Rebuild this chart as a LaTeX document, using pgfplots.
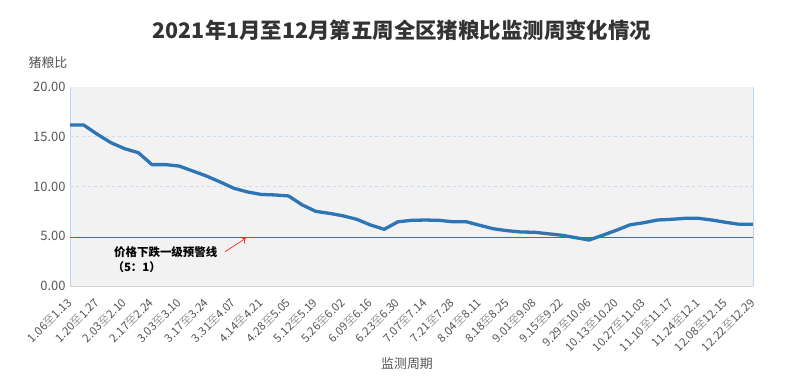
\documentclass[border=0pt]{standalone}
\usepackage{pgfplots}
\pgfplotsset{compat=1.18}
\usetikzlibrary{arrows.meta}
\usepackage{fontspec}
\setmainfont{Noto Sans CJK SC}
\definecolor{linec}{HTML}{2E75B6}
\definecolor{bgc}{HTML}{F2F2F2}
\definecolor{gridc}{HTML}{C8DDF3}
\definecolor{yaxc}{HTML}{BDD7EE}
\definecolor{xaxc}{HTML}{D0D0D0}
\definecolor{txtc}{HTML}{555555}
\definecolor{titc}{HTML}{333333}
\definecolor{warnc}{HTML}{FF2828}
\newcommand{\z}{{\color[HTML]{9A9A9A}至}}
\begin{document}
\begin{tikzpicture}
\path[use as bounding box] (0,0) rectangle (797bp,381bp);
\node[font=\bfseries\fontsize{21.5}{25}\selectfont, text=titc] at (402bp,351bp) {2021年1月至12月第五周全区猪粮比监测周变化情况};
\node[font=\fontsize{13}{15}\selectfont, text=txtc] at (48bp,318bp) {猪粮比};
\node[font=\fontsize{13}{15}\selectfont, text=txtc] at (407bp,17bp) {监测周期};
\begin{axis}[
  at={(70bp,95bp)}, anchor=south west,
  scale only axis, width=683bp, height=199bp,
  xmin=0, xmax=50, ymin=0, ymax=20,
  axis x line*=bottom, axis y line*=left,
  x axis line style={draw=xaxc, line width=1bp},
  y axis line style={draw=yaxc, line width=1bp},
  axis background/.style={fill=bgc},
  major tick length=0pt,
  ytick={0,5,10,15,20},
  extra y ticks={10,15},
  extra y tick labels={},
  extra y tick style={grid=major, major grid style={draw=gridc, dashed, line width=0.8bp}},
  yticklabel style={/pgf/number format/fixed, /pgf/number format/fixed zerofill, /pgf/number format/precision=2, /pgf/number format/assume math mode=true, font=\fontsize{13}{15}\selectfont, text=txtc, xshift=-1bp},
  xtick={0,2,...,50},
  xticklabels={1.06\z1.13, 1.20\z1.27, 2.03\z2.10, 2.17\z2.24, 3.03\z3.10, 3.17\z3.24, 3.31\z4.07, 4.14\z4.21, 4.28\z5.05, 5.12\z5.19, 5.26\z6.02, 6.09\z6.16, 6.23\z6.30, 7.07\z7.14, 7.21\z7.28, 8.04\z8.11, 8.18\z8.25, 9.01\z9.08, 9.15\z9.22, 9.29\z10.06, 10.13\z10.20, 10.27\z11.03, 11.10\z11.17, 11.24\z12.1, 12.08\z12.15, 12.22\z12.29},
  xticklabel style={font=\fontsize{11.5}{12}\selectfont, text=txtc, rotate=45, anchor=east, inner sep=0.5bp},
  xticklabel shift=14bp,
  clip=false,
]
\addplot[draw=warnc, solid, line width=1bp] coordinates {(0,4.9) (50,4.9)};
\addplot[linec, line width=3.3bp, line join=round] coordinates {
(0,16.18) (1,16.18) (2,15.25) (3,14.4) (4,13.8) (5,13.4) (6,12.2) (7,12.2) (8,12.05) (9,11.55)
(10,11.05) (11,10.45) (12,9.82) (13,9.45) (14,9.2) (15,9.15) (16,9.05) (17,8.15) (18,7.5) (19,7.3)
(20,7.05) (21,6.7) (22,6.13) (23,5.7) (24,6.45) (25,6.6) (26,6.63) (27,6.6) (28,6.46) (29,6.46)
(30,6.1) (31,5.75) (32,5.56) (33,5.43) (34,5.4) (35,5.25) (36,5.1) (37,4.86) (38,4.62) (39,5.1)
(40,5.6) (41,6.15) (42,6.36) (43,6.63) (44,6.7) (45,6.8) (46,6.8) (47,6.63) (48,6.4) (49,6.2) (50,6.2)
};
\draw[draw=yaxc, line width=1bp] (rel axis cs:1,0) -- (rel axis cs:1,1);
\node[anchor=west, font=\bfseries\fontsize{11.5}{14}\selectfont, inner sep=0pt] at (axis cs:3.22,3.42) {价格下跌一级预警线};
\node[anchor=west, font=\bfseries\fontsize{11.5}{14}\selectfont, inner sep=0pt] at (axis cs:3.1,1.85) {（5：1）};
\draw[warnc, line width=0.7bp, -{To[length=4bp]}] (axis cs:11.35,3.45) -- (axis cs:12.86,4.79);
\end{axis}
\end{tikzpicture}
\end{document}
